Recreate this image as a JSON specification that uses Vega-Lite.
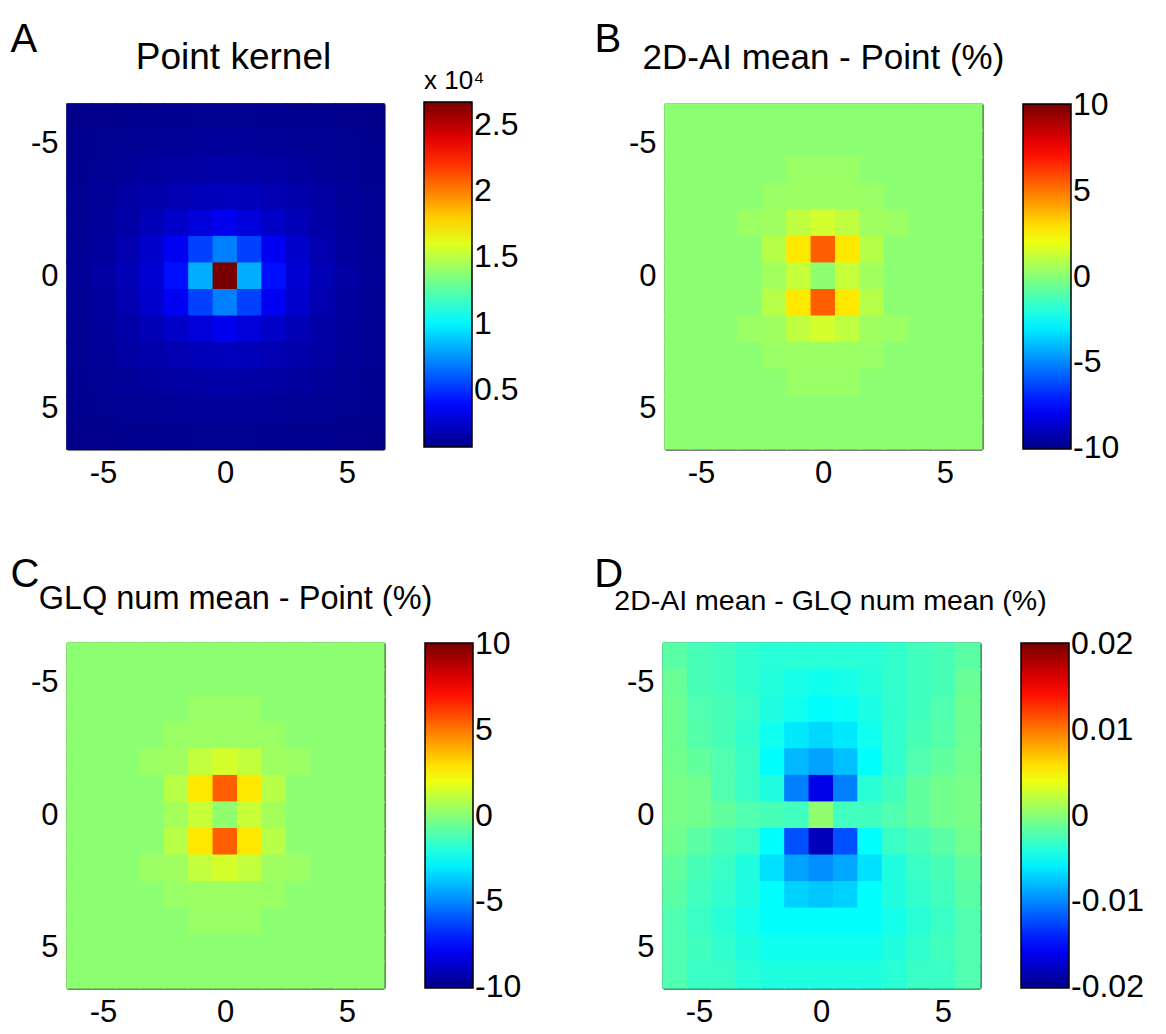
{
"$schema": "https://vega.github.io/schema/vega-lite/v6.json",
"padding": {"left": 10, "top": 20, "right": 0, "bottom": 0},
"config": {
  "font": "Liberation Sans",
  "view": {"stroke": null},
  "axis": {"domain": true, "domainColor": "black", "domainWidth": 2, "zindex": 1, "grid": false, "labelFontSize": 31, "labelColor": "black", "labelFont": "Liberation Sans", "tickColor": "black", "tickWidth": 1.5, "tickSize": -5, "labelPadding": 14},
  "scale": {"bandPaddingInner": 0, "bandPaddingOuter": 0},
  "title": {"fontSize": 35, "fontWeight": "normal", "color": "black", "font": "Liberation Sans"},
  "legend": {"type": "gradient", "direction": "vertical", "gradientLength": 345, "gradientThickness": 48, "gradientStrokeColor": "black", "gradientStrokeWidth": 1.5, "labelFontSize": 32, "labelColor": "black", "labelFont": "Liberation Sans", "labelOffset": 6, "labelBaseline": "middle", "labelOverlap": false, "offset": 40, "padding": 0, "titleFontSize": 26, "titleFontWeight": "normal", "titleColor": "black", "titleFont": "Liberation Sans"}
},
"data": {"values": [
{"x":-6,"y":-6,"a":800,"b":0.1,"c":0.1,"d":-0.0018},{"x":-5,"y":-6,"a":850,"b":0.1,"c":0.1,"d":-0.0025},{"x":-4,"y":-6,"a":880,"b":0.1,"c":0.1,"d":-0.0028},{"x":-3,"y":-6,"a":900,"b":0.1,"c":0.1,"d":-0.0034},{"x":-2,"y":-6,"a":930,"b":0.1,"c":0.1,"d":-0.0037},{"x":-1,"y":-6,"a":950,"b":0.1,"c":0.1,"d":-0.0037},{"x":0,"y":-6,"a":950,"b":0.1,"c":0.1,"d":-0.0037},{"x":1,"y":-6,"a":950,"b":0.1,"c":0.1,"d":-0.0037},{"x":2,"y":-6,"a":930,"b":0.1,"c":0.1,"d":-0.0037},{"x":3,"y":-6,"a":900,"b":0.1,"c":0.1,"d":-0.0034},{"x":4,"y":-6,"a":880,"b":0.1,"c":0.1,"d":-0.0028},{"x":5,"y":-6,"a":850,"b":0.1,"c":0.1,"d":-0.0025},{"x":6,"y":-6,"a":800,"b":0.1,"c":0.1,"d":-0.0018},
{"x":-6,"y":-5,"a":880,"b":0.1,"c":0.1,"d":-0.0012},{"x":-5,"y":-5,"a":950,"b":0.1,"c":0.1,"d":-0.0025},{"x":-4,"y":-5,"a":1000,"b":0.1,"c":0.1,"d":-0.0028},{"x":-3,"y":-5,"a":1050,"b":0.1,"c":0.1,"d":-0.0034},{"x":-2,"y":-5,"a":1150,"b":0.1,"c":0.1,"d":-0.0040},{"x":-1,"y":-5,"a":1200,"b":0.1,"c":0.1,"d":-0.0044},{"x":0,"y":-5,"a":1200,"b":0.1,"c":0.1,"d":-0.0047},{"x":1,"y":-5,"a":1200,"b":0.1,"c":0.1,"d":-0.0044},{"x":2,"y":-5,"a":1150,"b":0.1,"c":0.1,"d":-0.0040},{"x":3,"y":-5,"a":1050,"b":0.1,"c":0.1,"d":-0.0034},{"x":4,"y":-5,"a":1000,"b":0.1,"c":0.1,"d":-0.0028},{"x":5,"y":-5,"a":950,"b":0.1,"c":0.1,"d":-0.0025},{"x":6,"y":-5,"a":880,"b":0.1,"c":0.1,"d":-0.0012},
{"x":-6,"y":-4,"a":930,"b":0.1,"c":0.1,"d":-0.0010},{"x":-5,"y":-4,"a":1050,"b":0.1,"c":0.1,"d":-0.0022},{"x":-4,"y":-4,"a":1150,"b":0.1,"c":0.1,"d":-0.0025},{"x":-3,"y":-4,"a":1300,"b":0.1,"c":0.1,"d":-0.0031},{"x":-2,"y":-4,"a":1400,"b":0.1,"c":0.1,"d":-0.0041},{"x":-1,"y":-4,"a":1450,"b":0.35,"c":0.35,"d":-0.0047},{"x":0,"y":-4,"a":1550,"b":0.35,"c":0.35,"d":-0.0053},{"x":1,"y":-4,"a":1450,"b":0.35,"c":0.35,"d":-0.0050},{"x":2,"y":-4,"a":1400,"b":0.1,"c":0.1,"d":-0.0043},{"x":3,"y":-4,"a":1300,"b":0.1,"c":0.1,"d":-0.0034},{"x":4,"y":-4,"a":1150,"b":0.1,"c":0.1,"d":-0.0028},{"x":5,"y":-4,"a":1050,"b":0.1,"c":0.1,"d":-0.0022},{"x":6,"y":-4,"a":930,"b":0.1,"c":0.1,"d":-0.0010},
{"x":-6,"y":-3,"a":980,"b":0.1,"c":0.1,"d":-0.0010},{"x":-5,"y":-3,"a":1150,"b":0.1,"c":0.1,"d":-0.0020},{"x":-4,"y":-3,"a":1400,"b":0.1,"c":0.1,"d":-0.0025},{"x":-3,"y":-3,"a":1600,"b":0.1,"c":0.1,"d":-0.0034},{"x":-2,"y":-3,"a":1800,"b":0.35,"c":0.35,"d":-0.0047},{"x":-1,"y":-3,"a":1950,"b":0.4,"c":0.4,"d":-0.0062},{"x":0,"y":-3,"a":2050,"b":0.4,"c":0.4,"d":-0.0068},{"x":1,"y":-3,"a":1950,"b":0.4,"c":0.4,"d":-0.0062},{"x":2,"y":-3,"a":1800,"b":0.35,"c":0.35,"d":-0.0047},{"x":3,"y":-3,"a":1600,"b":0.1,"c":0.1,"d":-0.0034},{"x":4,"y":-3,"a":1400,"b":0.1,"c":0.1,"d":-0.0025},{"x":5,"y":-3,"a":1150,"b":0.1,"c":0.1,"d":-0.0020},{"x":6,"y":-3,"a":980,"b":0.1,"c":0.1,"d":-0.0010},
{"x":-6,"y":-2,"a":1000,"b":0.1,"c":0.1,"d":-0.0008},{"x":-5,"y":-2,"a":1200,"b":0.1,"c":0.1,"d":-0.0015},{"x":-4,"y":-2,"a":1500,"b":0.1,"c":0.1,"d":-0.0022},{"x":-3,"y":-2,"a":1900,"b":0.4,"c":0.4,"d":-0.0031},{"x":-2,"y":-2,"a":2350,"b":0.45,"c":0.45,"d":-0.0053},{"x":-1,"y":-2,"a":2800,"b":1.1,"c":1.15,"d":-0.0081},{"x":0,"y":-2,"a":3300,"b":1.45,"c":1.5,"d":-0.0090},{"x":1,"y":-2,"a":2800,"b":1.1,"c":1.15,"d":-0.0078},{"x":2,"y":-2,"a":2350,"b":0.45,"c":0.45,"d":-0.0053},{"x":3,"y":-2,"a":1900,"b":0.4,"c":0.4,"d":-0.0034},{"x":4,"y":-2,"a":1500,"b":0.1,"c":0.1,"d":-0.0022},{"x":5,"y":-2,"a":1200,"b":0.1,"c":0.1,"d":-0.0015},{"x":6,"y":-2,"a":1000,"b":0.1,"c":0.1,"d":-0.0008},
{"x":-6,"y":-1,"a":1050,"b":0.1,"c":0.1,"d":-0.0006},{"x":-5,"y":-1,"a":1300,"b":0.1,"c":0.1,"d":-0.0009},{"x":-4,"y":-1,"a":1750,"b":0.1,"c":0.1,"d":-0.0022},{"x":-3,"y":-1,"a":2450,"b":0.1,"c":0.1,"d":-0.0031},{"x":-2,"y":-1,"a":3400,"b":0.9,"c":0.95,"d":-0.0041},{"x":-1,"y":-1,"a":5400,"b":2.8,"c":2.8,"d":-0.0103},{"x":0,"y":-1,"a":7000,"b":5.5,"c":5.5,"d":-0.0162},{"x":1,"y":-1,"a":5400,"b":2.8,"c":2.8,"d":-0.0103},{"x":2,"y":-1,"a":3400,"b":0.9,"c":0.95,"d":-0.0037},{"x":3,"y":-1,"a":2450,"b":0.1,"c":0.1,"d":-0.0028},{"x":4,"y":-1,"a":1750,"b":0.1,"c":0.1,"d":-0.0015},{"x":5,"y":-1,"a":1300,"b":0.1,"c":0.1,"d":-0.0009},{"x":6,"y":-1,"a":1050,"b":0.1,"c":0.1,"d":-0.0006},
{"x":-6,"y":0,"a":1100,"b":0.1,"c":0.1,"d":-0.0006},{"x":-5,"y":0,"a":1400,"b":0.1,"c":0.1,"d":-0.0009},{"x":-4,"y":0,"a":1850,"b":0.1,"c":0.1,"d":-0.0015},{"x":-3,"y":0,"a":2600,"b":0.1,"c":0.1,"d":-0.0022},{"x":-2,"y":0,"a":4100,"b":0.5,"c":0.55,"d":-0.0025},{"x":-1,"y":0,"a":8200,"b":1.2,"c":1.25,"d":-0.0028},{"x":0,"y":0,"a":26700,"b":0.15,"c":0.15,"d":0.0003},{"x":1,"y":0,"a":8200,"b":1.2,"c":1.25,"d":-0.0028},{"x":2,"y":0,"a":4100,"b":0.5,"c":0.55,"d":-0.0028},{"x":3,"y":0,"a":2600,"b":0.1,"c":0.1,"d":-0.0022},{"x":4,"y":0,"a":1850,"b":0.1,"c":0.1,"d":-0.0015},{"x":5,"y":0,"a":1400,"b":0.1,"c":0.1,"d":-0.0009},{"x":6,"y":0,"a":1100,"b":0.1,"c":0.1,"d":-0.0006},
{"x":-6,"y":1,"a":1050,"b":0.1,"c":0.1,"d":-0.0009},{"x":-5,"y":1,"a":1300,"b":0.1,"c":0.1,"d":-0.0018},{"x":-4,"y":1,"a":1750,"b":0.1,"c":0.1,"d":-0.0025},{"x":-3,"y":1,"a":2450,"b":0.1,"c":0.1,"d":-0.0031},{"x":-2,"y":1,"a":3400,"b":0.9,"c":0.95,"d":-0.0053},{"x":-1,"y":1,"a":5400,"b":2.8,"c":2.8,"d":-0.0122},{"x":0,"y":1,"a":7000,"b":5.5,"c":5.5,"d":-0.0181},{"x":1,"y":1,"a":5400,"b":2.8,"c":2.8,"d":-0.0122},{"x":2,"y":1,"a":3400,"b":0.9,"c":0.95,"d":-0.0053},{"x":3,"y":1,"a":2450,"b":0.1,"c":0.1,"d":-0.0031},{"x":4,"y":1,"a":1750,"b":0.1,"c":0.1,"d":-0.0025},{"x":5,"y":1,"a":1300,"b":0.1,"c":0.1,"d":-0.0018},{"x":6,"y":1,"a":1050,"b":0.1,"c":0.1,"d":-0.0009},
{"x":-6,"y":2,"a":1000,"b":0.1,"c":0.1,"d":-0.0015},{"x":-5,"y":2,"a":1200,"b":0.1,"c":0.1,"d":-0.0025},{"x":-4,"y":2,"a":1500,"b":0.1,"c":0.1,"d":-0.0031},{"x":-3,"y":2,"a":1900,"b":0.4,"c":0.4,"d":-0.0041},{"x":-2,"y":2,"a":2350,"b":0.45,"c":0.45,"d":-0.0065},{"x":-1,"y":2,"a":2800,"b":1.1,"c":1.15,"d":-0.0090},{"x":0,"y":2,"a":3300,"b":1.45,"c":1.5,"d":-0.0097},{"x":1,"y":2,"a":2800,"b":1.1,"c":1.15,"d":-0.0087},{"x":2,"y":2,"a":2350,"b":0.45,"c":0.45,"d":-0.0065},{"x":3,"y":2,"a":1900,"b":0.4,"c":0.4,"d":-0.0041},{"x":4,"y":2,"a":1500,"b":0.1,"c":0.1,"d":-0.0031},{"x":5,"y":2,"a":1200,"b":0.1,"c":0.1,"d":-0.0025},{"x":6,"y":2,"a":1000,"b":0.1,"c":0.1,"d":-0.0015},
{"x":-6,"y":3,"a":980,"b":0.1,"c":0.1,"d":-0.0018},{"x":-5,"y":3,"a":1150,"b":0.1,"c":0.1,"d":-0.0028},{"x":-4,"y":3,"a":1400,"b":0.1,"c":0.1,"d":-0.0034},{"x":-3,"y":3,"a":1600,"b":0.1,"c":0.1,"d":-0.0041},{"x":-2,"y":3,"a":1800,"b":0.35,"c":0.35,"d":-0.0053},{"x":-1,"y":3,"a":1950,"b":0.4,"c":0.4,"d":-0.0071},{"x":0,"y":3,"a":2050,"b":0.4,"c":0.4,"d":-0.0075},{"x":1,"y":3,"a":1950,"b":0.4,"c":0.4,"d":-0.0071},{"x":2,"y":3,"a":1800,"b":0.35,"c":0.35,"d":-0.0053},{"x":3,"y":3,"a":1600,"b":0.1,"c":0.1,"d":-0.0041},{"x":4,"y":3,"a":1400,"b":0.1,"c":0.1,"d":-0.0034},{"x":5,"y":3,"a":1150,"b":0.1,"c":0.1,"d":-0.0028},{"x":6,"y":3,"a":980,"b":0.1,"c":0.1,"d":-0.0018},
{"x":-6,"y":4,"a":930,"b":0.1,"c":0.1,"d":-0.0022},{"x":-5,"y":4,"a":1050,"b":0.1,"c":0.1,"d":-0.0031},{"x":-4,"y":4,"a":1150,"b":0.1,"c":0.1,"d":-0.0037},{"x":-3,"y":4,"a":1300,"b":0.1,"c":0.1,"d":-0.0045},{"x":-2,"y":4,"a":1400,"b":0.1,"c":0.1,"d":-0.0053},{"x":-1,"y":4,"a":1450,"b":0.35,"c":0.35,"d":-0.0053},{"x":0,"y":4,"a":1550,"b":0.35,"c":0.35,"d":-0.0053},{"x":1,"y":4,"a":1450,"b":0.35,"c":0.35,"d":-0.0053},{"x":2,"y":4,"a":1400,"b":0.1,"c":0.1,"d":-0.0053},{"x":3,"y":4,"a":1300,"b":0.1,"c":0.1,"d":-0.0045},{"x":4,"y":4,"a":1150,"b":0.1,"c":0.1,"d":-0.0037},{"x":5,"y":4,"a":1050,"b":0.1,"c":0.1,"d":-0.0031},{"x":6,"y":4,"a":930,"b":0.1,"c":0.1,"d":-0.0022},
{"x":-6,"y":5,"a":880,"b":0.1,"c":0.1,"d":-0.0022},{"x":-5,"y":5,"a":950,"b":0.1,"c":0.1,"d":-0.0028},{"x":-4,"y":5,"a":1000,"b":0.1,"c":0.1,"d":-0.0034},{"x":-3,"y":5,"a":1050,"b":0.1,"c":0.1,"d":-0.0041},{"x":-2,"y":5,"a":1150,"b":0.1,"c":0.1,"d":-0.0047},{"x":-1,"y":5,"a":1200,"b":0.1,"c":0.1,"d":-0.0047},{"x":0,"y":5,"a":1200,"b":0.1,"c":0.1,"d":-0.0047},{"x":1,"y":5,"a":1200,"b":0.1,"c":0.1,"d":-0.0047},{"x":2,"y":5,"a":1150,"b":0.1,"c":0.1,"d":-0.0047},{"x":3,"y":5,"a":1050,"b":0.1,"c":0.1,"d":-0.0041},{"x":4,"y":5,"a":1000,"b":0.1,"c":0.1,"d":-0.0034},{"x":5,"y":5,"a":950,"b":0.1,"c":0.1,"d":-0.0028},{"x":6,"y":5,"a":880,"b":0.1,"c":0.1,"d":-0.0022},
{"x":-6,"y":6,"a":800,"b":0.1,"c":0.1,"d":-0.0022},{"x":-5,"y":6,"a":850,"b":0.1,"c":0.1,"d":-0.0031},{"x":-4,"y":6,"a":880,"b":0.1,"c":0.1,"d":-0.0031},{"x":-3,"y":6,"a":900,"b":0.1,"c":0.1,"d":-0.0037},{"x":-2,"y":6,"a":930,"b":0.1,"c":0.1,"d":-0.0041},{"x":-1,"y":6,"a":950,"b":0.1,"c":0.1,"d":-0.0041},{"x":0,"y":6,"a":950,"b":0.1,"c":0.1,"d":-0.0041},{"x":1,"y":6,"a":950,"b":0.1,"c":0.1,"d":-0.0041},{"x":2,"y":6,"a":930,"b":0.1,"c":0.1,"d":-0.0041},{"x":3,"y":6,"a":900,"b":0.1,"c":0.1,"d":-0.0037},{"x":4,"y":6,"a":880,"b":0.1,"c":0.1,"d":-0.0031},{"x":5,"y":6,"a":850,"b":0.1,"c":0.1,"d":-0.0031},{"x":6,"y":6,"a":800,"b":0.1,"c":0.1,"d":-0.0022}
]},
"resolve": {"scale": {"color": "independent"}, "legend": {"color": "independent"}},
"spacing": 66,
"vconcat": [
 {"hconcat": [
  {"title": {"text": "A", "anchor": "start", "fontSize": 40, "offset": -21, "dx": -20},
   "resolve": {"scale": {"color": "independent"}, "legend": {"color": "independent"}},
   "vconcat": [{
    "title": {"text": "Point kernel", "offset": -9, "fontSize": 37, "dx": 8},
    "width": 317, "height": 345,
    "layer": [
     {"mark": {"type": "rect", "width": {"band": 1.06}, "height": {"band": 1.06}},
      "encoding": {
       "x": {"field": "x", "type": "ordinal", "scale": {"domain": [-6,-5,-4,-3,-2,-1,0,1,2,3,4,5,6]}, "axis": {"orient": "bottom", "values": [-5,0,5], "labelAngle": 0, "title": null}},
       "y": {"field": "y", "type": "ordinal", "scale": {"domain": [-6,-5,-4,-3,-2,-1,0,1,2,3,4,5,6]}, "axis": {"orient": "left", "values": [-5,0,5], "title": null}},
       "color": {"field": "a", "type": "quantitative", "scale": {"domain": [700,3742,10242,16742,23242,26700], "range": ["#000087","#0000ff","#00ffff","#ffff00","#ff0000","#780000"], "interpolate": "rgb", "clamp": true},
         "legend": {"type": "gradient", "orient": "none", "legendX": 357, "legendY": -36, "title": "x 10⁴", "titlePadding": 8, "values": [5000,10000,15000,20000,25000], "labelExpr": "'' + datum.value/10000"}}
      }},
     {"mark": {"type": "rect", "opacity": 0},
      "encoding": {
       "x": {"field": "x", "type": "ordinal", "axis": {"orient": "top", "values": [-5,0,5], "labels": false, "title": null}},
       "y": {"field": "y", "type": "ordinal", "axis": {"orient": "right", "values": [-5,0,5], "labels": false, "title": null}}
      }}
    ],
    "resolve": {"axis": {"x": "independent", "y": "independent"}}
   }]
  },
  {"title": {"text": "B", "anchor": "start", "fontSize": 40, "offset": -19, "dx": -34},
   "resolve": {"scale": {"color": "independent"}, "legend": {"color": "independent"}},
   "vconcat": [{
    "title": {"text": "2D-AI mean - Point (%)", "offset": 27, "fontSize": 35},
    "width": 317, "height": 345,
    "layer": [
     {"mark": {"type": "rect", "width": {"band": 1.06}, "height": {"band": 1.06}},
      "encoding": {
       "x": {"field": "x", "type": "ordinal", "scale": {"domain": [-6,-5,-4,-3,-2,-1,0,1,2,3,4,5,6]}, "axis": {"orient": "bottom", "values": [-5,0,5], "labelAngle": 0, "title": null}},
       "y": {"field": "y", "type": "ordinal", "scale": {"domain": [-6,-5,-4,-3,-2,-1,0,1,2,3,4,5,6]}, "axis": {"orient": "left", "values": [-5,0,5], "title": null}},
       "color": {"field": "b", "type": "quantitative", "scale": {"domain": [-10.05,-7.66,-2.66,2.34,7.34,10.05], "range": ["#000087","#0000ff","#00ffff","#ffff00","#ff0000","#780000"], "interpolate": "rgb", "clamp": true},
         "legend": {"type": "gradient", "title": null, "values": [-10,-5,0,5,10], "labelExpr": "datum.value < 0 ? '-' + abs(datum.value) : '' + datum.value"}}
      }},
     {"mark": {"type": "rect", "opacity": 0},
      "encoding": {
       "x": {"field": "x", "type": "ordinal", "axis": {"orient": "top", "values": [-5,0,5], "labels": false, "title": null}},
       "y": {"field": "y", "type": "ordinal", "axis": {"orient": "right", "values": [-5,0,5], "labels": false, "title": null}}
      }}
    ],
    "resolve": {"axis": {"x": "independent", "y": "independent"}}
   }]
  }
 ], "spacing": 75, "resolve": {"scale": {"color": "independent"}, "legend": {"color": "independent"}}},
 {"hconcat": [
  {"title": {"text": "C", "anchor": "start", "fontSize": 40, "offset": -12, "dx": -20},
   "resolve": {"scale": {"color": "independent"}, "legend": {"color": "independent"}},
   "vconcat": [{
    "title": {"text": "GLQ num mean - Point (%)", "offset": 27, "fontSize": 32.5, "dx": 10},
    "width": 317, "height": 345,
    "layer": [
     {"mark": {"type": "rect", "width": {"band": 1.06}, "height": {"band": 1.06}},
      "encoding": {
       "x": {"field": "x", "type": "ordinal", "scale": {"domain": [-6,-5,-4,-3,-2,-1,0,1,2,3,4,5,6]}, "axis": {"orient": "bottom", "values": [-5,0,5], "labelAngle": 0, "title": null}},
       "y": {"field": "y", "type": "ordinal", "scale": {"domain": [-6,-5,-4,-3,-2,-1,0,1,2,3,4,5,6]}, "axis": {"orient": "left", "values": [-5,0,5], "title": null}},
       "color": {"field": "c", "type": "quantitative", "scale": {"domain": [-10.05,-7.66,-2.66,2.34,7.34,10.05], "range": ["#000087","#0000ff","#00ffff","#ffff00","#ff0000","#780000"], "interpolate": "rgb", "clamp": true},
         "legend": {"type": "gradient", "title": null, "values": [-10,-5,0,5,10], "labelExpr": "datum.value < 0 ? '-' + abs(datum.value) : '' + datum.value"}}
      }},
     {"mark": {"type": "rect", "opacity": 0},
      "encoding": {
       "x": {"field": "x", "type": "ordinal", "axis": {"orient": "top", "values": [-5,0,5], "labels": false, "title": null}},
       "y": {"field": "y", "type": "ordinal", "axis": {"orient": "right", "values": [-5,0,5], "labels": false, "title": null}}
      }}
    ],
    "resolve": {"axis": {"x": "independent", "y": "independent"}}
   }]
  },
  {"title": {"text": "D", "anchor": "start", "fontSize": 40, "offset": -8, "dx": -20},
   "resolve": {"scale": {"color": "independent"}, "legend": {"color": "independent"}},
   "vconcat": [{
    "title": {"text": "2D-AI mean - GLQ num mean (%)", "offset": 27, "fontSize": 28.5, "dx": 9},
    "width": 317, "height": 345,
    "layer": [
     {"mark": {"type": "rect", "width": {"band": 1.06}, "height": {"band": 1.06}},
      "encoding": {
       "x": {"field": "x", "type": "ordinal", "scale": {"domain": [-6,-5,-4,-3,-2,-1,0,1,2,3,4,5,6]}, "axis": {"orient": "bottom", "values": [-5,0,5], "labelAngle": 0, "title": null}},
       "y": {"field": "y", "type": "ordinal", "scale": {"domain": [-6,-5,-4,-3,-2,-1,0,1,2,3,4,5,6]}, "axis": {"orient": "left", "values": [-5,0,5], "title": null}},
       "color": {"field": "d", "type": "quantitative", "scale": {"domain": [-0.0201,-0.01532,-0.00532,0.00468,0.01468,0.0201], "range": ["#000087","#0000ff","#00ffff","#ffff00","#ff0000","#780000"], "interpolate": "rgb", "clamp": true},
         "legend": {"type": "gradient", "title": null, "values": [-0.02,-0.01,0,0.01,0.02], "labelExpr": "datum.value < 0 ? '-' + abs(datum.value) : '' + datum.value"}}
      }},
     {"mark": {"type": "rect", "opacity": 0},
      "encoding": {
       "x": {"field": "x", "type": "ordinal", "axis": {"orient": "top", "values": [-5,0,5], "labels": false, "title": null}},
       "y": {"field": "y", "type": "ordinal", "axis": {"orient": "right", "values": [-5,0,5], "labels": false, "title": null}}
      }}
    ],
    "resolve": {"axis": {"x": "independent", "y": "independent"}}
   }]
  }
 ], "spacing": 72, "resolve": {"scale": {"color": "independent"}, "legend": {"color": "independent"}}}
]
}
